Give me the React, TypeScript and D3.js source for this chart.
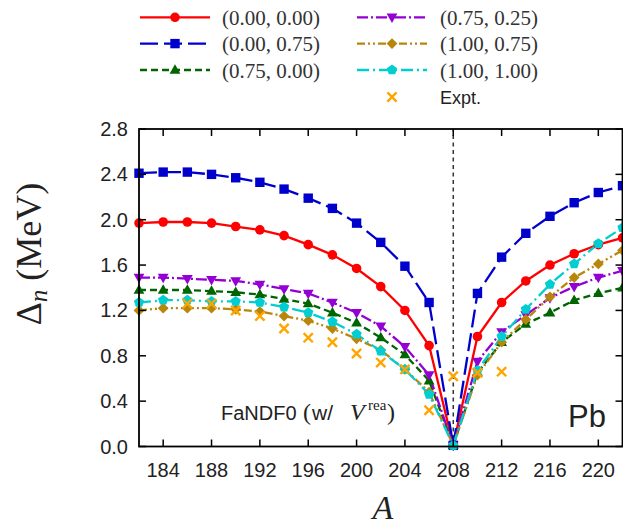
import React from "react";
import * as d3 from "d3";

// ---- data ----
const massNumbers = [182, 184, 186, 188, 190, 192, 194, 196, 198, 200, 202, 204, 206, 208, 210, 212, 214, 216, 218, 220, 222];
const red0000 = [1.97, 1.98, 1.98, 1.97, 1.94, 1.91, 1.86, 1.78, 1.69, 1.57, 1.41, 1.2, 0.89, 0.01, 0.97, 1.27, 1.46, 1.6, 1.7, 1.78, 1.84];
const blue0075 = [2.41, 2.42, 2.42, 2.4, 2.37, 2.33, 2.27, 2.19, 2.1, 1.97, 1.8, 1.59, 1.27, 0.01, 1.35, 1.67, 1.88, 2.03, 2.15, 2.24, 2.3];
const green0750 = [1.38, 1.38, 1.38, 1.37, 1.36, 1.34, 1.3, 1.26, 1.18, 1.09, 0.96, 0.81, 0.58, 0.01, 0.65, 0.92, 1.08, 1.18, 1.29, 1.35, 1.4];
const purple0725 = [1.49, 1.49, 1.48, 1.47, 1.46, 1.43, 1.39, 1.35, 1.27, 1.18, 1.06, 0.88, 0.63, 0.01, 0.75, 1.01, 1.16, 1.31, 1.41, 1.49, 1.55];
const brown1075 = [1.2, 1.22, 1.22, 1.22, 1.21, 1.19, 1.15, 1.11, 1.04, 0.95, 0.85, 0.68, 0.48, 0.01, 0.63, 0.92, 1.12, 1.32, 1.49, 1.61, 1.73];
const cyan1010 = [1.27, 1.29, 1.29, 1.28, 1.28, 1.27, 1.23, 1.18, 1.1, 0.99, 0.84, 0.68, 0.46, 0.01, 0.67, 0.97, 1.21, 1.43, 1.61, 1.79, 1.93];
const exptA = [186, 188, 190, 192, 194, 196, 198, 200, 202, 204, 206, 208, 210, 212];
const exptValues = [1.26, 1.26, 1.2, 1.15, 1.04, 0.96, 0.92, 0.82, 0.74, 0.68, 0.32, 0.62, 0.65, 0.66];
const xTicks = [184, 188, 192, 196, 200, 204, 208, 212, 216, 220];
const yTicks = [0, 0.4, 0.8, 1.2, 1.6, 2.0, 2.4, 2.8];
const seriesLabels = ["(0.00, 0.00)", "(0.00, 0.75)", "(0.75, 0.00)", "(0.75, 0.25)", "(1.00, 0.75)", "(1.00, 1.00)"];
const exptLabel = "Expt.";

// ---- layout ----
const W = 623;
const H = 525;
const x = d3.scaleLinear().domain([182, 222]).range([139, 622.5]);
const y = d3.scaleLinear().domain([0, 2.8]).range([446.5, 129]);

type Marker = "circle" | "square" | "tri-up" | "tri-down" | "diamond" | "pentagon";

const series: { label: string; values: number[]; color: string; dash: string; marker: Marker }[] = [
  { label: seriesLabels[0], values: red0000, color: "#ff0000", dash: "none", marker: "circle" },
  { label: seriesLabels[1], values: blue0075, color: "#0000cd", dash: "18,6", marker: "square" },
  { label: seriesLabels[2], values: green0750, color: "#006400", dash: "7,4", marker: "tri-up" },
  { label: seriesLabels[3], values: purple0725, color: "#9400d3", dash: "11,3,2,3", marker: "tri-down" },
  { label: seriesLabels[4], values: brown1075, color: "#b8860b", dash: "8,3,2,3,2,3", marker: "diamond" },
  { label: seriesLabels[5], values: cyan1010, color: "#00ced1", dash: "12,4,2,4", marker: "pentagon" },
];

function markerPath(kind: Marker): string {
  switch (kind) {
    case "circle":
      return d3.symbol(d3.symbolCircle, Math.PI * 4.8 * 4.8)() as string;
    case "square":
      return "M-4.7,-4.7H4.7V4.7H-4.7Z";
    case "tri-up":
      return "M0,-5.8L5.4,3.7L-5.4,3.7Z";
    case "tri-down":
      return "M0,5.8L5.4,-3.7L-5.4,-3.7Z";
    case "diamond":
      return "M0,-5.4L5.4,0L0,5.4L-5.4,0Z";
    case "pentagon": {
      const r = 5.4;
      const pts = d3.range(5).map((i) => {
        const a = -Math.PI / 2 + (i * 2 * Math.PI) / 5;
        return [r * Math.cos(a), r * Math.sin(a)];
      });
      return "M" + pts.map((p) => p[0].toFixed(2) + "," + p[1].toFixed(2)).join("L") + "Z";
    }
  }
}

const crossPath = "M-4.6,-4.6L4.6,4.6M-4.6,4.6L4.6,-4.6";

const sans = "'Liberation Sans', Arial, sans-serif";
const serif = "'Liberation Serif', 'Times New Roman', serif";

export default function App() {
  const line = d3
    .line<[number, number]>()
    .x((d) => x(d[0]))
    .y((d) => y(d[1]));

  const legendRows = [17.3, 43.6, 70];
  const legendCols = [
    { x1: 140, x2: 210, text: 222 },
    { x1: 357, x2: 427, text: 440 },
  ];

  return (
    <svg
      width={W}
      height={H}
      style={{ position: "absolute", left: 0, top: 0, background: "#fff" }}
      xmlns="http://www.w3.org/2000/svg"
    >
      <rect x={0} y={0} width={W} height={H} fill="#fff" />

      {/* vertical dashed line at 208 */}
      <line x1={x(208)} x2={x(208)} y1={y(0)} y2={y(2.8)} stroke="#333" strokeWidth={1.5} strokeDasharray="4,3.5" />

      {/* series lines */}
      {series.map((s, i) => (
        <path
          key={"l" + i}
          d={line(massNumbers.map((a, j) => [a, s.values[j]] as [number, number])) as string}
          fill="none"
          stroke={s.color}
          strokeWidth={2.3}
          strokeDasharray={s.dash}
        />
      ))}
      {/* series markers */}
      {series.map((s, i) => (
        <g key={"m" + i} fill={s.color}>
          {massNumbers.map((a, j) => (
            <path key={j} d={markerPath(s.marker)} transform={`translate(${x(a)},${y(s.values[j])})`} />
          ))}
        </g>
      ))}
      {/* experiment */}
      <g stroke="#ffa500" strokeWidth={2.4} fill="none">
        {exptA.map((a, j) => (
          <path key={j} d={crossPath} transform={`translate(${x(a)},${y(exptValues[j])})`} />
        ))}
      </g>

      {/* frame */}
      <rect x={x(182)} y={y(2.8)} width={x(222) - x(182)} height={y(0) - y(2.8)} fill="none" stroke="#000" strokeWidth={1.8} />
      {/* x ticks */}
      {xTicks.map((t) => (
        <g key={"xt" + t}>
          <line x1={x(t)} x2={x(t)} y1={y(0)} y2={y(0) - 7} stroke="#000" strokeWidth={1.5} />
          <line x1={x(t)} x2={x(t)} y1={y(2.8)} y2={y(2.8) + 7} stroke="#000" strokeWidth={1.5} />
          <text x={x(t)} y={476.5} textAnchor="middle" fontFamily={sans} fontSize={20} fill="#222">
            {t}
          </text>
        </g>
      ))}
      {/* y ticks */}
      {yTicks.map((t) => (
        <g key={"yt" + t}>
          <line x1={x(182)} x2={x(182) + 7} y1={y(t)} y2={y(t)} stroke="#000" strokeWidth={1.5} />
          <line x1={x(222)} x2={x(222) - 7} y1={y(t)} y2={y(t)} stroke="#000" strokeWidth={1.5} />
          <text x={128} y={y(t) + 7} textAnchor="end" fontFamily={sans} fontSize={20} fill="#222">
            {t.toFixed(1)}
          </text>
        </g>
      ))}

      {/* axis labels */}
      <text x={383} y={519} textAnchor="middle" fontFamily={serif} fontStyle="italic" fontSize={34} fill="#222">
        A
      </text>
      <text transform="translate(41,254) rotate(-90)" textAnchor="middle" fontFamily={serif} fontSize={36} fill="#222">
        Δ<tspan fontStyle="italic" fontSize={25} dy={6}>n</tspan>
        <tspan dy={-6}> (MeV)</tspan>
      </text>

      {/* annotations */}
      <text y={420} fontSize={20} fill="#222">
        <tspan x={221} fontFamily={sans}>FaNDF0</tspan>
        <tspan x={303} fontFamily={serif} fontSize={24}>(</tspan>
        <tspan x={312} fontFamily={sans} fontSize={21}>w/</tspan>
        <tspan x={350} fontFamily={serif} fontStyle="italic" fontSize={24}>V</tspan>
        <tspan x={368} fontFamily={serif} fontSize={15} dy={-10}>rea</tspan>
        <tspan x={387} fontFamily={serif} fontSize={24} dy={10}>)</tspan>
      </text>
      <text x={606} y={427} textAnchor="end" fontFamily={sans} fontSize={31} fill="#222">
        Pb
      </text>

      {/* legend */}
      {series.map((s, i) => {
        const col = legendCols[Math.floor(i / 3)];
        const ry = legendRows[i % 3];
        const cx = (col.x1 + col.x2) / 2;
        return (
          <g key={"lg" + i}>
            <line x1={col.x1} x2={col.x2} y1={ry} y2={ry} stroke={s.color} strokeWidth={2.3} strokeDasharray={s.dash} />
            <path d={markerPath(s.marker)} transform={`translate(${cx},${ry})`} fill={s.color} />
            <text x={col.text} y={ry + 7.5} fontFamily={serif} fontSize={21} fill="#333">
              {s.label}
            </text>
          </g>
        );
      })}
      <path d={crossPath} transform={`translate(${(legendCols[1].x1 + legendCols[1].x2) / 2},97)`} stroke="#ffa500" strokeWidth={2.4} fill="none" />
      <text x={440} y={103.5} fontFamily={sans} fontSize={18} fill="#222">
        {exptLabel}
      </text>
    </svg>
  );
}
